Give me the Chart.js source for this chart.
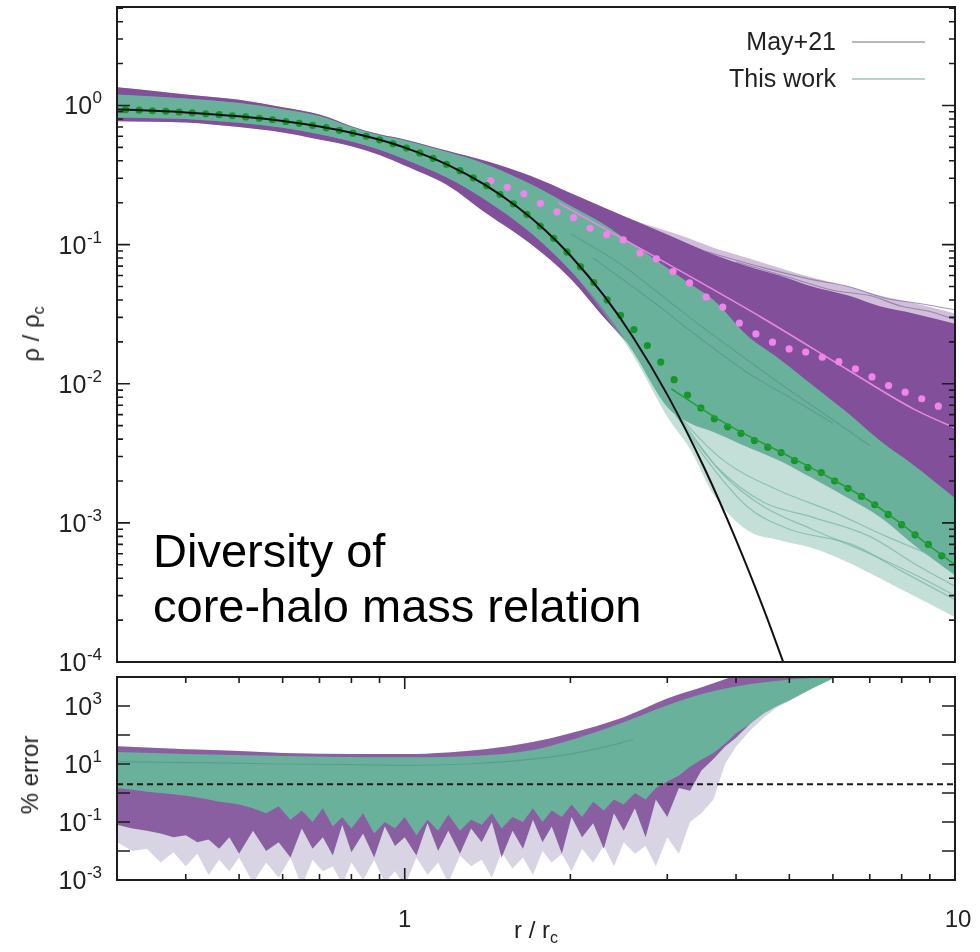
<!DOCTYPE html>
<html>
<head>
<meta charset="utf-8">
<title>Density profiles</title>
<script src="https://cdn.jsdelivr.net/npm/chart.js@4.4.1/dist/chart.umd.min.js"></script>
<style>
  body { margin: 0; background: #fff; }
  #page {
    position: relative; width: 980px; height: 952px; overflow: hidden;
    font-family: "Liberation Sans", Arial, Helvetica, sans-serif; color: #222;
  }
  canvas { position: absolute; left: 0; }
  #densityChart { top: 0; }
  #errorChart { top: 668px; }
  .title { position: absolute; font-size: 24px; white-space: nowrap; line-height: 1; }
  .rot { transform: translate(-50%, -50%) rotate(-90deg); }
  .ctr { transform: translate(-50%, -50%); }
  .title sub { font-size: 16px; vertical-align: -5px; }
  .note {
    position: absolute; left: 153px; top: 523px;
    font-size: 47px; line-height: 55px; color: #000; white-space: nowrap;
  }
</style>
</head>
<body>
<div id="page">
  <canvas id="densityChart" width="980" height="700"></canvas>
  <canvas id="errorChart" width="980" height="284"></canvas>
  <div class="title rot" style="left:33px; top:334px">ρ / ρ<sub>c</sub></div>
  <div class="title rot" style="left:30px; top:775px">% error</div>
  <div class="title ctr" style="left:536px; top:932px">r / r<sub>c</sub></div>
  <div class="note">Diversity of<br>core-halo mass relation</div>
</div>

<script>
// ── Upper panel: density profiles ρ/ρc against r/rc ─────────────

// shared radius grid for the two bundles of profiles
const bandR = [0.3, 0.35, 0.4, 0.5, 0.6, 0.7, 0.8, 0.9, 1.0, 1.2, 1.4, 1.7, 2.0,
               2.3, 2.6, 3.0, 3.3, 3.64, 4.2, 4.8, 5.5, 6.4, 7.3, 8.4, 10];

// May+21 bundle: upper/lower edge of the dense part, and the sparse outliers above it
const mayHi     = [1.35, 1.27, 1.2, 1.1, 0.97, 0.86, 0.71, 0.62, 0.57, 0.47, 0.40, 0.31, 0.235,
                   0.185, 0.15, 0.118, 0.1, 0.085, 0.07, 0.06, 0.05, 0.043, 0.036, 0.032, 0.027];
const mayLo     = [0.77, 0.765, 0.755, 0.70, 0.64, 0.57, 0.51, 0.44, 0.37, 0.265, 0.17, 0.10, 0.057,
                   0.03, 0.018, 0.011, 0.009, 0.0075, 0.006, 0.005, 0.004, 0.0033, 0.0026, 0.002, 0.0015];
const mayOuter  = [1.35, 1.27, 1.2, 1.1, 0.97, 0.86, 0.71, 0.62, 0.57, 0.47, 0.40, 0.31, 0.235,
                   0.185, 0.15, 0.125, 0.11, 0.095, 0.08, 0.068, 0.058, 0.05, 0.043, 0.038, 0.032];

// This work bundle: dense core and the sparse tail below it
const workHi    = [1.2, 1.16, 1.12, 1.04, 0.94, 0.84, 0.70, 0.61, 0.56, 0.46, 0.38, 0.27, 0.19,
                   0.14, 0.1, 0.068, 0.052, 0.04, 0.022, 0.015, 0.0098, 0.0061, 0.0039, 0.0026, 0.0015];
const workLo    = [0.82, 0.81, 0.8, 0.75, 0.69, 0.62, 0.55, 0.48, 0.41, 0.30, 0.21, 0.12, 0.065,
                   0.034, 0.017, 0.0068, 0.0052, 0.0045, 0.0035, 0.0028, 0.0021, 0.0015, 0.0011, 0.0007, 0.00042];
const workTail  = [0.82, 0.81, 0.8, 0.75, 0.69, 0.62, 0.55, 0.48, 0.41, 0.30, 0.21, 0.12, 0.065,
                   0.032, 0.016, 0.0058, 0.0034, 0.0016, 0.00088, 0.00075, 0.00066, 0.00052, 0.0004, 0.0003, 0.00021];

// a few single profiles that stand out from the bundles
const tailR1 = [2.9, 3.3, 3.8, 4.5, 5.5, 7.0, 8.5, 10];
const tailV1 = [0.0095, 0.0045, 0.0022, 0.0013, 0.0009, 0.0006, 0.00042, 0.0003];
const tailR2 = [3.0, 3.5, 4.2, 5.0, 6.5, 8.0, 10];
const tailV2 = [0.0075, 0.003, 0.0013, 0.0009, 0.0007, 0.00045, 0.00028];
const tailR3 = [3.1, 3.7, 4.5, 5.5, 7.0, 8.5, 10];
const tailV3 = [0.006, 0.0025, 0.0014, 0.0011, 0.0008, 0.0005, 0.00035];
const tailR4 = [2.8, 3.2, 3.8, 4.8, 6.0, 7.5, 10];
const tailV4 = [0.011, 0.0055, 0.0028, 0.0017, 0.0012, 0.0008, 0.0005];
const outR1 = [3.5, 4.5, 5.5, 6.4, 7.5, 8.5, 10];
const outV1 = [0.09, 0.068, 0.056, 0.05, 0.041, 0.038, 0.034];
const outR2 = [4, 5, 6, 7, 8, 9, 10];
const outV2 = [0.075, 0.058, 0.047, 0.043, 0.036, 0.033, 0.029];
const streakR1 = [2.0, 2.5, 3.0, 3.5, 4.0, 5.0, 6.0, 7.0];
const streakV1 = [0.12, 0.07, 0.04, 0.025, 0.017, 0.009, 0.0055, 0.0036];
const streakR2 = [2.2, 2.8, 3.4, 4.2, 5.0, 6.0];
const streakV2 = [0.08, 0.04, 0.022, 0.012, 0.008, 0.0052];

// soliton core profile (black)
const solitonR   = [0.3, 0.35, 0.4, 0.5, 0.6, 0.7, 0.8, 0.9, 1.0, 1.2, 1.4, 1.6, 1.8, 2.0, 2.3, 2.6,
                    3.0, 3.5, 4.0, 4.5, 5.0];
const solitonRho = [0.937, 0.915, 0.891, 0.835, 0.773, 0.705, 0.636, 0.567, 0.498, 0.373, 0.269, 0.187,
                    0.127, 0.0835, 0.0431, 0.0216, 0.00835, 0.0025, 0.000755, 0.000235, 0.0000756];

// green dotted profile
const greenDotR = [0.311, 0.329, 0.348, 0.368, 0.389, 0.411, 0.435, 0.460, 0.486, 0.514,
                   0.544, 0.575, 0.608, 0.643, 0.680, 0.720, 0.761, 0.805, 0.851, 0.900,
                   0.952, 1.007, 1.065, 1.126, 1.191, 1.260, 1.332, 1.409, 1.490, 1.576,
                   1.667, 1.763, 1.865, 1.972, 2.086, 2.206, 2.333, 2.467, 2.609, 2.760,
                   2.919, 3.087, 3.265, 3.453, 3.652, 3.862, 4.084, 4.320, 4.569, 4.831,
                   5.109, 5.403, 5.715, 6.044, 6.392, 6.760, 7.149, 7.561, 7.998, 8.459,
                   8.945, 9.461];
const greenDotRho = [0.932, 0.925, 0.916, 0.907, 0.897, 0.885, 0.872, 0.859, 0.843, 0.827,
                     0.809, 0.789, 0.767, 0.744, 0.719, 0.692, 0.663, 0.632, 0.600, 0.566,
                     0.530, 0.494, 0.456, 0.417, 0.378, 0.340, 0.302, 0.265, 0.229, 0.196,
                     0.165, 0.136, 0.111, 0.0886, 0.0694, 0.0533, 0.0400, 0.031, 0.0245, 0.0188,
                     0.0143, 0.0107, 0.0083, 0.0067, 0.0056, 0.0049, 0.0044, 0.0039, 0.0035, 0.0032,
                     0.0028, 0.0025, 0.0023, 0.0020, 0.00177, 0.00155, 0.00135, 0.00115, 0.00097, 0.00082,
                     0.00070, 0.00058];

// pink dotted profile
const pinkDotR = [1.433, 1.536, 1.646, 1.764, 1.891, 2.027, 2.172, 2.328, 2.495, 2.675,
                  2.867, 3.073, 3.293, 3.530, 3.784, 4.056, 4.347, 4.660, 4.995, 5.353,
                  5.738, 6.151, 6.592, 7.066, 7.574, 8.118, 8.701, 9.326];
const pinkDotRho = [0.287, 0.258, 0.232, 0.198, 0.172, 0.156, 0.131, 0.118, 0.108, 0.087,
                    0.079, 0.064, 0.053, 0.042, 0.0355, 0.0273, 0.0228, 0.0199, 0.0178, 0.0169,
                    0.0155, 0.0144, 0.0128, 0.0112, 0.0097, 0.0087, 0.0078, 0.0069];

// thin fitted lines through the outer parts
const pinkFitR   = [1.9, 3.0, 4.5, 6.4, 8.4, 10];
const pinkFitRho = [0.2, 0.073, 0.0292, 0.0125, 0.0066, 0.0048];
const greenFitR   = [3.05, 3.3, 3.6, 4.0, 5.0, 6.0, 7.0, 8.0, 9.0, 10.0];
const greenFitRho = [0.0092, 0.0075, 0.0060, 0.0047, 0.0030, 0.00205, 0.00143, 0.00098, 0.00068, 0.0005];

// ── Lower panel: % error ─────────────────────────────────────────
const errR = [0.30, 0.32, 0.34, 0.36, 0.38, 0.40, 0.42, 0.44, 0.46, 0.48, 0.50,
              0.53, 0.56, 0.59, 0.62, 0.65, 0.68, 0.71, 0.74, 0.77, 0.80,
              0.84, 0.88, 0.92, 0.96, 1.00, 1.05, 1.10, 1.15, 1.20,
              1.26, 1.32, 1.38, 1.44, 1.50, 1.57, 1.64, 1.71, 1.78, 1.85,
              1.93, 2.01, 2.10, 2.20, 2.30, 2.40, 2.50, 2.62, 2.74, 2.86, 3.00,
              3.15, 3.30, 3.46, 3.64, 3.82, 4.00, 4.25, 4.50, 4.75, 5.00, 5.50, 6.00, 6.50];
const errMayLo  = [0.08, 0.06, 0.05, 0.04, 0.03, 0.035, 0.02, 0.025, 0.012, 0.03, 0.008,
                   0.05, 0.01, 0.02, 0.006, 0.06, 0.012, 0.03, 0.007, 0.08, 0.009,
                   0.04, 0.006, 0.07, 0.015, 0.03, 0.007, 0.09, 0.01, 0.05,
                   0.008, 0.06, 0.02, 0.1, 0.006, 0.05, 0.012, 0.12, 0.02, 0.07,
                   0.008, 0.15, 0.03, 0.09, 0.012, 0.2, 0.05, 0.3, 0.03, 0.6, 0.15,
                   1.5, 1.2, 6, 15, 40, 80, 250, 700, 1500, 3000, 9000, 25000, 60000];
const errWorkLo = [1.5, 1.3, 1.1, 1.0, 0.9, 0.8, 0.7, 0.6, 0.5, 0.45, 0.4,
                   0.3, 0.2, 0.35, 0.12, 0.25, 0.1, 0.3, 0.07, 0.15, 0.06,
                   0.2, 0.04, 0.1, 0.06, 0.15, 0.035, 0.12, 0.05, 0.18,
                   0.05, 0.12, 0.08, 0.2, 0.06, 0.15, 0.1, 0.3, 0.1, 0.25,
                   0.15, 0.4, 0.15, 0.5, 0.25, 0.6, 0.4, 1.0, 0.6, 1.5, 2.5,
                   4, 8, 14, 24, 50, 115, 250, 560, 1000, 1560, 4000, 8900, 30000];
const errTail   = [0.02, 0.01, 0.012, 0.004, 0.009, 0.003, 0.008, 0.0015, 0.005, 0.002, 0.006,
                   0.0008, 0.004, 0.0012, 0.006, 0.0006, 0.005, 0.002, 0.003, 0.0007, 0.004,
                   0.001, 0.005, 0.0008, 0.002, 0.0006, 0.006, 0.0015, 0.004, 0.0008,
                   0.007, 0.003, 0.005, 0.0012, 0.009, 0.0025, 0.006, 0.0015, 0.01, 0.004,
                   0.008, 0.002, 0.012, 0.004, 0.015, 0.003, 0.02, 0.008, 0.015, 0.003, 0.03,
                   0.008, 0.1, 0.2, 0.6, 10, 40, 150, 400, 900, 1500, 4000, 8900, 30000];
const errMayTopR  = [0.3, 0.4, 0.5, 0.6, 0.8, 1.0, 1.2, 1.4, 1.7, 2.0, 2.5, 3.0, 3.5, 3.9, 4.5, 6.5];
const errMayTop   = [41, 32, 28, 24, 22, 22, 25, 32, 56, 115, 410, 1800, 4700, 9600, 25000, 60000];
const errWorkTopR = [0.3, 0.4, 0.6, 1.0, 1.4, 1.7, 2.0, 2.5, 3.0, 3.5, 4.0, 5.0, 6.0, 6.5];
const errWorkTop  = [26, 22, 19, 17, 20, 30, 66, 275, 1060, 2700, 4700, 8200, 12000, 30000];
const errStreakR = [0.3, 0.45, 0.6, 0.8, 1.0, 1.3, 1.6, 2.0, 2.3, 2.6];
const errStreak  = [12, 11, 10, 9.5, 9, 10, 13, 22, 38, 70];
const errRefR = [0.3, 10];
const errRef  = [2, 2];

// tick labels
const densityExps = ['0', '-1', '-2', '-3', '-4'];
const densityExpVals = [1, 0.1, 0.01, 0.001, 0.0001];
const errorExps = ['3', '1', '-1', '-3'];
const errorExpVals = [1000, 10, 0.1, 0.001];
const radiusLabels = ['1', '10'];
const radiusLabelVals = [1, 10];

const legendNames = ['May+21', 'This work'];

// colours
const MAY_DENSE  = '#824f9a';
const MAY_SOFT   = 'rgba(128, 78, 152, 0.88)';
const MAY_SPARSE = 'rgba(150, 110, 172, 0.45)';
const WORK_DENSE = '#6ab19c';
const WORK_SPARSE = 'rgba(122, 184, 166, 0.45)';
const TAIL_LIGHT = 'rgba(168, 160, 195, 0.45)';
const TAIL_LINE = 'rgba(112, 176, 156, 0.65)';
const OUT_LINE = 'rgba(138, 112, 160, 0.75)';
const STREAK = 'rgba(70, 100, 125, 0.28)';
const FONT = '"Liberation Sans", Arial, Helvetica, sans-serif';

// ── helpers ─────────────────────────────────────────────────────
function pts(xs, ys) { return xs.map((x, i) => ({ x, y: ys[i] })); }

function bandTop(xs, ys, color, order, smooth) {
  return {
    data: pts(xs, ys), fill: '+1', backgroundColor: color,
    borderColor: 'rgba(0,0,0,0)', borderWidth: 0, pointRadius: 0, order,
    cubicInterpolationMode: smooth ? 'monotone' : 'default',
  };
}
function bandEdge(xs, ys, order, smooth) {
  return {
    data: pts(xs, ys), fill: false,
    borderColor: 'rgba(0,0,0,0)', borderWidth: 0, pointRadius: 0, order,
    cubicInterpolationMode: smooth ? 'monotone' : 'default',
  };
}
function curve(xs, ys, color, width, extra) {
  return Object.assign({
    data: pts(xs, ys), fill: false, borderColor: color, borderWidth: width,
    pointRadius: 0, cubicInterpolationMode: 'monotone', order: 0,
  }, extra || {});
}
function dots(xs, ys, color) {
  return {
    data: pts(xs, ys), showLine: false, pointRadius: 3.6, pointBackgroundColor: color,
    pointBorderWidth: 0, pointBorderColor: color, order: 0,
  };
}

function logTicks(lo, hi, majorLen, minorLen, min, max) {
  const out = [];
  for (let d = lo; d <= hi; d++) {
    out.push([10 ** d, majorLen]);
    if (minorLen) for (let m = 2; m <= 9; m++) out.push([m * 10 ** d, minorLen]);
  }
  return out.filter(([v]) => v >= min * 0.999 && v <= max * 1.001);
}

function logAxis(min, max, size, vertical) {
  return {
    type: 'logarithmic', min, max, bounds: 'data',
    ticks: { display: false }, grid: { display: false }, border: { display: false },
    afterFit(s) { if (vertical) s.width = size; else s.height = size; },
  };
}

// "10" with a raised exponent, right-aligned at x
function drawPower(ctx, exp, x, y) {
  ctx.font = '17px ' + FONT;
  const ew = ctx.measureText(exp).width;
  ctx.textAlign = 'right';
  ctx.textBaseline = 'alphabetic';
  ctx.fillText(exp, x, y - 2);
  ctx.font = '25px ' + FONT;
  ctx.fillText('10', x - ew - 0.5, y + 9);
}

// frame, inward ticks on all sides and tick labels
const frameTicks = {
  id: 'frameTicks',
  afterDraw(chart, _args, o) {
    const { ctx, chartArea: a } = chart;
    const xs = chart.scales.x, ys = chart.scales.y;
    ctx.save();
    ctx.strokeStyle = '#1c1c1c';
    ctx.lineWidth = 1.6;
    ctx.beginPath();
    for (const [v, len] of o.xTicks) {
      const px = xs.getPixelForValue(v);
      ctx.moveTo(px, a.bottom); ctx.lineTo(px, a.bottom - len);
      ctx.moveTo(px, a.top); ctx.lineTo(px, a.top + len);
    }
    for (const [v, len] of o.yTicks) {
      const py = ys.getPixelForValue(v);
      ctx.moveTo(a.left, py); ctx.lineTo(a.left + len, py);
      ctx.moveTo(a.right, py); ctx.lineTo(a.right - len, py);
    }
    ctx.stroke();
    ctx.lineWidth = 2;
    ctx.strokeRect(a.left, a.top, a.right - a.left, a.bottom - a.top);

    ctx.fillStyle = '#222';
    o.yExps.forEach((e, i) => drawPower(ctx, e, a.left - 15, ys.getPixelForValue(o.yExpVals[i])));
    if (o.xLabels) {
      ctx.font = '24px ' + FONT;
      ctx.textAlign = 'center';
      ctx.textBaseline = 'middle';
      o.xLabels.forEach((t, i) => {
        const px = xs.getPixelForValue(o.xLabelVals[i]);
        ctx.fillText(t, px + (t === '10' ? 3 : 0), a.bottom + 40);
      });
    }
    ctx.restore();
  },
};

// key in the top right: name right-aligned, then a short line sample
const keyBox = {
  id: 'keyBox',
  afterDraw(chart, _args, o) {
    if (!o.items) return;
    const { ctx } = chart;
    ctx.save();
    ctx.font = '25px ' + FONT;
    ctx.textAlign = 'right';
    ctx.textBaseline = 'middle';
    o.items.forEach((it) => {
      ctx.fillStyle = '#222';
      ctx.fillText(it.text, o.textRight, it.y + 1);
      ctx.strokeStyle = it.color;
      ctx.lineWidth = 1.6;
      ctx.beginPath();
      ctx.moveTo(o.lineFrom, it.y); ctx.lineTo(o.lineTo, it.y);
      ctx.stroke();
    });
    ctx.restore();
  },
};

const baseOptions = {
  responsive: false,
  animation: false,
  events: [],
  plugins: { legend: { display: false }, tooltip: { enabled: false } },
};

// ── density panel ───────────────────────────────────────────────
new Chart(document.getElementById('densityChart'), {
  type: 'line',
  data: {
    datasets: [
      curve(solitonR, solitonRho, '#111', 2),
      curve(pinkFitR, pinkFitRho, '#ea86e2', 1.6),
      curve(greenFitR, greenFitRho, '#22a034', 1.6),
      dots(greenDotR, greenDotRho, '#16952a'),
      dots(pinkDotR, pinkDotRho, '#f283ec'),
      curve(streakR1, streakV1, STREAK, 1.2, { order: 1 }),
      curve(streakR2, streakV2, STREAK, 1.2, { order: 1 }),
      curve(tailR1, tailV1, TAIL_LINE, 1.2, { order: 1 }),
      curve(tailR2, tailV2, TAIL_LINE, 1.2, { order: 1 }),
      curve(tailR3, tailV3, TAIL_LINE, 1.2, { order: 1 }),
      curve(tailR4, tailV4, TAIL_LINE, 1.2, { order: 1 }),
      curve(outR1, outV1, OUT_LINE, 1.1, { order: 1 }),
      curve(outR2, outV2, OUT_LINE, 1.1, { order: 1 }),
      bandTop(bandR, workHi, WORK_DENSE, 3, true),
      bandEdge(bandR, workLo, 3, true),
      bandTop(bandR, workHi, WORK_SPARSE, 4, true),
      bandEdge(bandR, workTail, 4, true),
      bandTop(bandR, mayHi, MAY_DENSE, 5, true),
      bandEdge(bandR, mayLo, 5, true),
      bandTop(bandR, mayOuter, MAY_SPARSE, 6, true),
      bandEdge(bandR, mayLo, 6, true),
    ],
  },
  options: {
    ...baseOptions,
    layout: { padding: { top: 7, right: 25, left: 0, bottom: 0 } },
    scales: {
      x: logAxis(0.3, 10, 38, false),
      y: logAxis(1e-4, 5.1, 117, true),
    },
    plugins: {
      ...baseOptions.plugins,
      frameTicks: {
        xTicks: [],
        yTicks: logTicks(-4, 0, 13, 6, 1e-4, 5.1),
        yExps: densityExps, yExpVals: densityExpVals,
      },
      keyBox: {
        textRight: 836, lineFrom: 852, lineTo: 925,
        items: [
          { text: legendNames[0], color: '#a99bb6', y: 42 },
          { text: legendNames[1], color: '#a0c2ba', y: 79 },
        ],
      },
    },
  },
  plugins: [frameTicks, keyBox],
});

// ── error panel ─────────────────────────────────────────────────
new Chart(document.getElementById('errorChart'), {
  type: 'line',
  data: {
    datasets: [
      curve(errRefR, errRef, '#1a1a1a', 2, { borderDash: [6, 4], cubicInterpolationMode: 'default' }),
      curve(errStreakR, errStreak, STREAK, 1.2, { order: 1 }),
      bandTop(errWorkTopR, errWorkTop, WORK_DENSE, 3, true),
      bandEdge(errR, errWorkLo, 3, false),
      bandTop(errMayTopR, errMayTop, MAY_SOFT, 5, true),
      bandEdge(errR, errMayLo, 5, false),
      bandTop(errMayTopR, errMayTop, TAIL_LIGHT, 6, true),
      bandEdge(errR, errTail, 6, false),
    ],
  },
  options: {
    ...baseOptions,
    layout: { padding: { top: 9, right: 25, left: 0, bottom: 0 } },
    scales: {
      x: logAxis(0.3, 10, 72, false),
      y: logAxis(1e-3, 1e4, 117, true),
    },
    plugins: {
      ...baseOptions.plugins,
      frameTicks: {
        xTicks: logTicks(-1, 1, 12, 6, 0.3, 10),
        yTicks: logTicks(-3, 4, 13, 0, 1e-3, 1e4),
        yExps: errorExps, yExpVals: errorExpVals,
        xLabels: radiusLabels, xLabelVals: radiusLabelVals,
      },
    },
  },
  plugins: [frameTicks],
});
</script>
</body>
</html>
